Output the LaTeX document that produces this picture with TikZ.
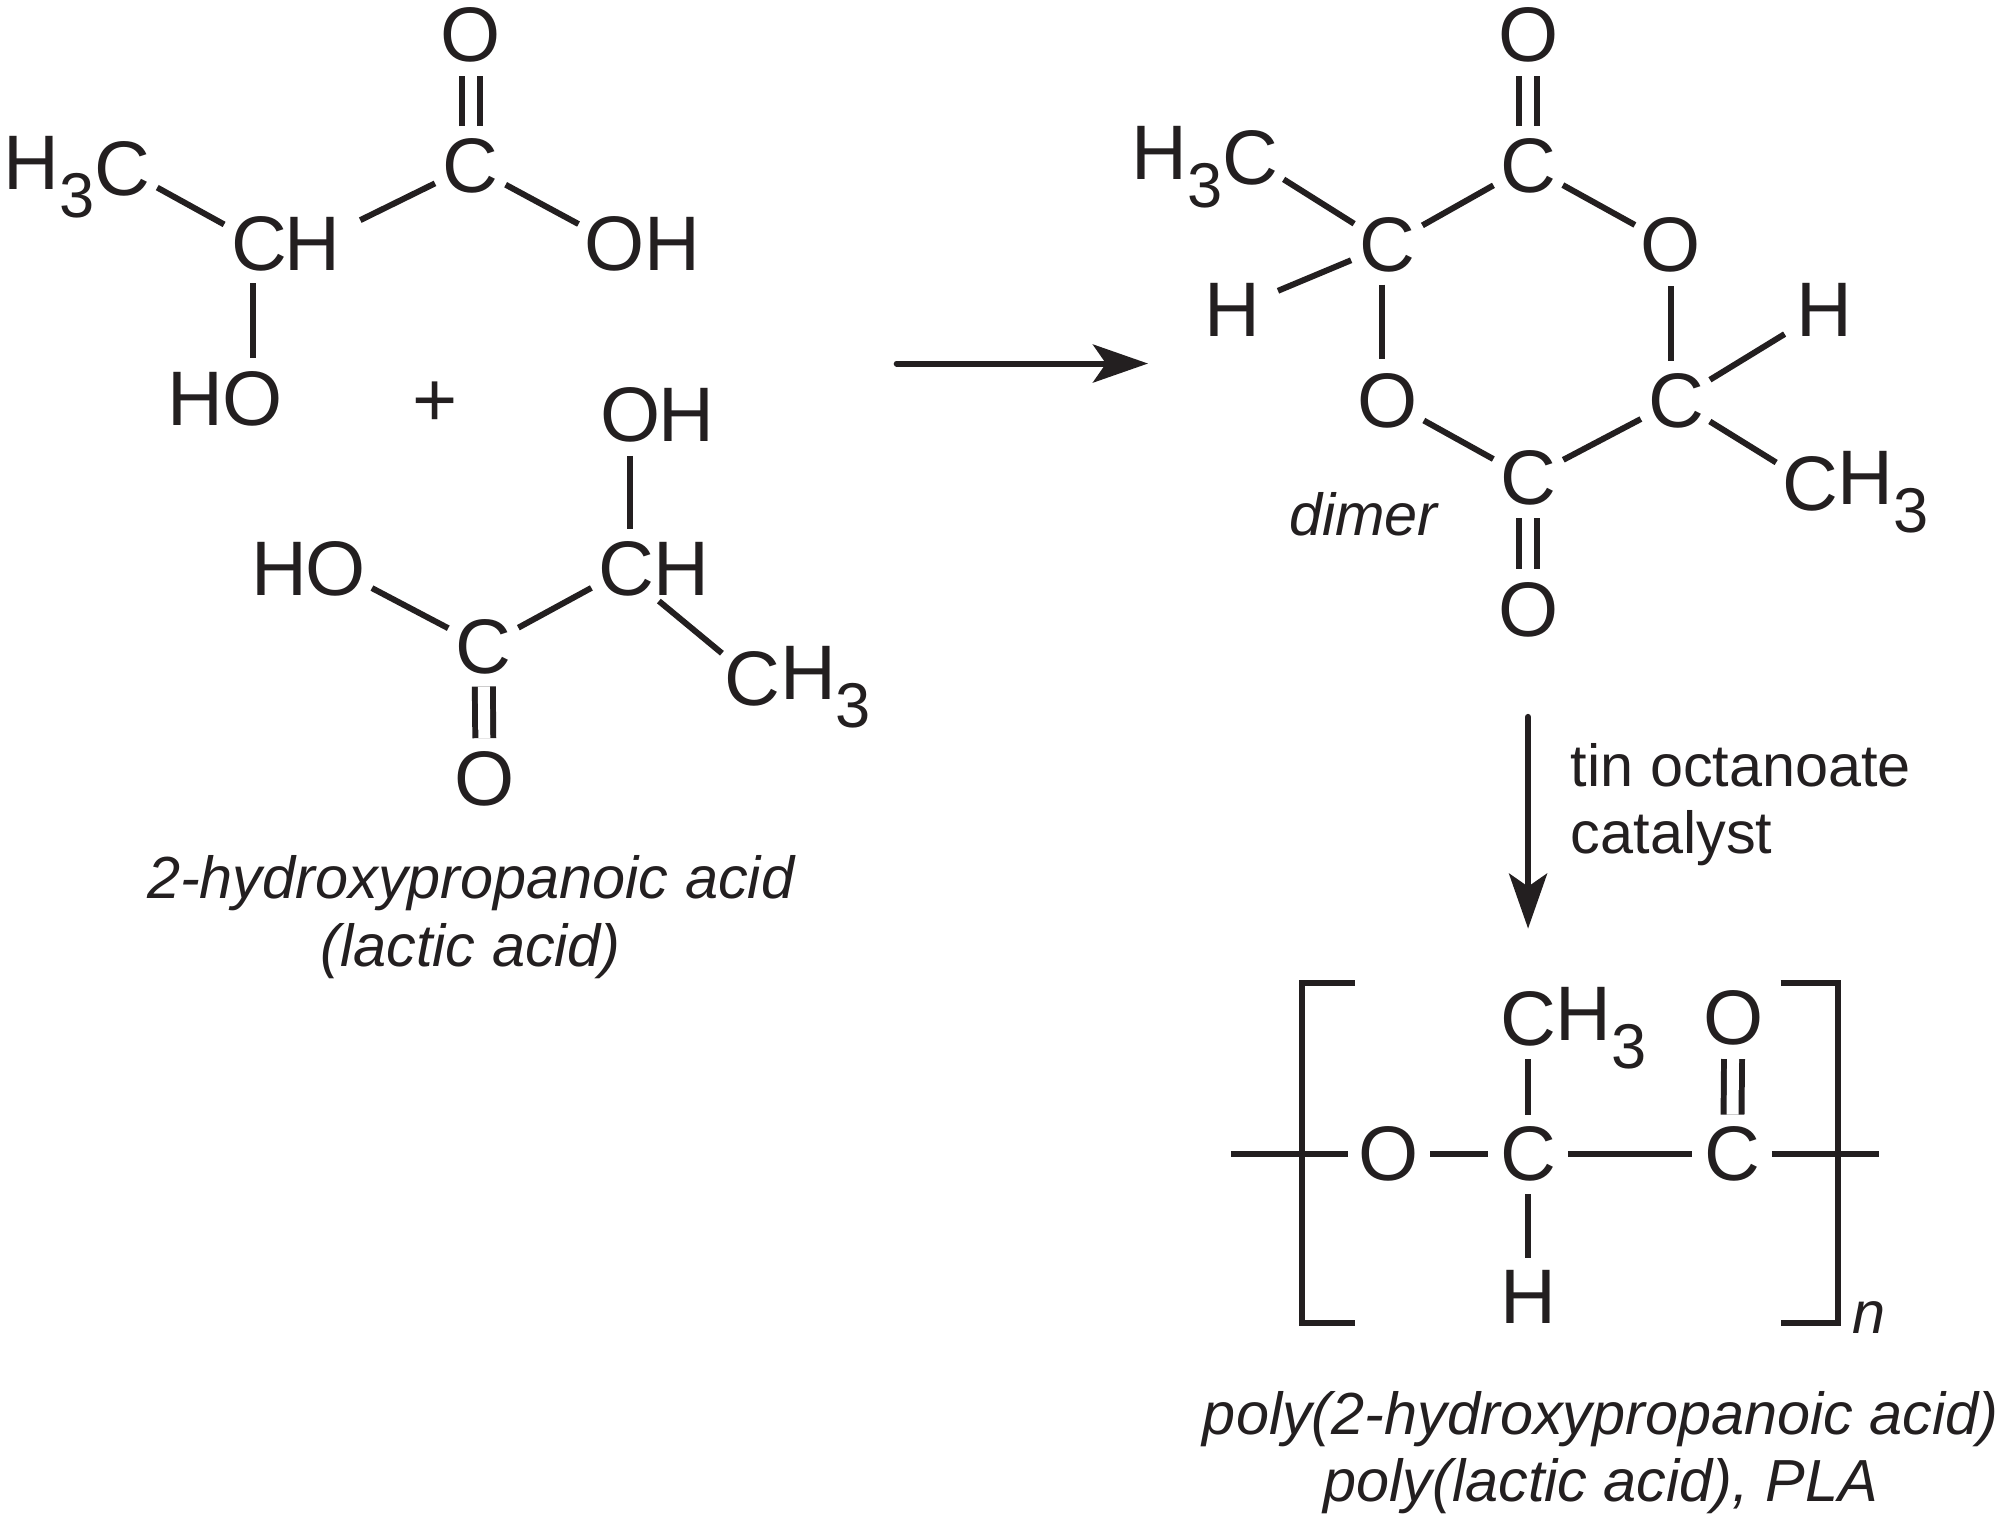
\documentclass[tikz,border=0pt]{standalone}
\usepackage{fontspec}
\setmainfont{Liberation Sans}
\usetikzlibrary{arrows.meta}
\definecolor{ink}{HTML}{231F20}
\newcommand{\low}[1]{\raisebox{-.36em}{\fontsize{18}{18}\selectfont #1}}
\tikzset{
  atom/.style={circle,inner sep=0pt,minimum size=.74cm,font=\fontsize{22}{24}\selectfont,text=ink},
  frag/.style={inner sep=0pt,font=\fontsize{22}{24}\selectfont,text=ink},
  caption/.style={inner sep=0pt,align=center,font=\fontsize{16.9}{19.2}\selectfont\itshape,text=ink},
  bond/.style={draw=ink,line width=1.7pt},
  dbl/.style={draw=ink,line width=1.7pt,double=white,double distance=3.4pt},
  rxn/.style={draw=ink,line width=1.7pt,line cap=round,-{Stealth[length=.55cm,width=.38cm,inset=.13cm]}},
}
\begin{document}
\begin{tikzpicture}[x=0.012755cm,y=-0.012755cm]
\useasboundingbox (0,0) rectangle (1568,1193);
% lactic acid, upper
\node[atom] (la1) at (96,132) {C};
\node[frag,anchor=east] (la1h) at (75,139) {H\low{3}};
\node[atom] (la2) at (203,191) {C};
\node[atom] (la2h) at (245,191) {H};
\node[atom] (la3) at (369,130) {C};
\node[atom] (la4) at (369,27) {O};
\node[atom] (la5) at (482,191) {O};
\node[atom] (la5h) at (527,191) {H};
\node[atom] (la6) at (198,313) {O};
\node[atom] (la6h) at (153,313) {H};
\draw[bond] (la1) -- (la2);
\draw[bond,shorten <=4pt] (la2h) -- (la3);
\draw[bond] (la3) -- (la5);
\draw[dbl] (la3) -- (la4);
\draw[bond] (la6.north) -- (la6.north |- la2.south);
\node[frag] (plus) at (341,317) {+};
% lactic acid, lower
\node[atom] (lb1) at (494,325) {O};
\node[atom] (lb1h) at (538,325) {H};
\node[atom] (lb2) at (491,446) {C};
\node[atom] (lb2h) at (534,446) {H};
\node[atom] (lb3) at (379,507) {C};
\node[atom] (lb4) at (380,611) {O};
\node[atom] (lb5) at (263,446) {O};
\node[atom] (lb5h) at (219,446) {H};
\node[atom] (lb6) at (590,532) {C};
\node[frag,anchor=west] (lb6h) at (611,539) {H\low{3}};
\draw[bond] (lb1.south) -- (lb1.south |- lb2.north);
\draw[bond] (lb2) -- (lb3);
\draw[dbl] (lb3) -- (lb4);
\draw[bond] (lb5) -- (lb3);
\draw[bond,shorten <=2pt] (lb2h.south west) -- (lb6);
\node[caption] (acid) at (369,719) {2-hydroxypropanoic acid\\(lactic acid)};
% reaction arrows
\coordinate (r1) at (703,285);
\coordinate (r2) at (900,285);
\draw[rxn] (r1) -- (r2);
\coordinate (r3) at (1198,562);
\coordinate (r4) at (1198,728);
\draw[rxn] (r3) -- (r4);
\node[frag,anchor=west,align=left,font=\fontsize{16.9}{19.2}\selectfont] (tin) at (1231,631) {tin octanoate\\catalyst};
% dimer
\node[atom] (d1) at (1198,130) {C};
\node[atom] (d2) at (1198,27) {O};
\node[atom] (d3) at (1310,192) {O};
\node[atom] (d4) at (1314,314) {C};
\node[atom] (d5) at (1198,375) {C};
\node[atom] (d6) at (1198,478) {O};
\node[atom] (d7) at (1088,314) {O};
\node[atom] (d8) at (1088,192) {C};
\node[atom] (d9) at (980,124) {C};
\node[frag,anchor=east] (d9h) at (959,131) {H\low{3}};
\node[atom] (d10) at (966,243) {H};
\node[atom] (d11) at (1430,243) {H};
\node[atom] (d12) at (1419,379) {C};
\node[frag,anchor=west] (d12h) at (1440,386) {H\low{3}};
\draw[dbl] (d1) -- (d2);
\draw[bond] (d1) -- (d3);
\draw[bond] (d3.south) -- (d3.south |- d4.north);
\draw[bond] (d4) -- (d5);
\draw[dbl] (d5) -- (d6);
\draw[bond] (d5) -- (d7);
\draw[bond] ([xshift=-.06cm]d8.south) -- ([xshift=-.06cm]d7.north);
\draw[bond] (d8) -- (d1);
\draw[bond] (d8) -- (d9);
\draw[bond,shorten >=3pt] (d8) -- (d10);
\draw[bond,shorten >=2pt] (d4) -- (d11);
\draw[bond] (d4) -- (d12);
\node[caption] (dimer) at (1069,403) {dimer};
% polymer
\node[atom] (p1) at (1089,905) {O};
\node[atom] (p2) at (1198,905) {C};
\node[atom] (p3) at (1358,905) {C};
\node[atom] (p4) at (1198,799) {C};
\node[frag,anchor=west] (p4h) at (1219,806) {H\low{3}};
\node[atom] (p5) at (1198,1017) {H};
\node[atom] (p6) at (1359,798) {O};
\coordinate (e1) at (965,905);
\coordinate (e2) at (1473,905);
\draw[bond] (e1) -- (p1);
\draw[bond] (p1) -- (p2);
\draw[bond] (p2) -- (p3);
\draw[bond] (p3) -- (e2);
\draw[bond] (p2) -- (p4);
\draw[bond] (p2) -- (p5);
\draw[dbl] (p3) -- (p6);
\coordinate (b1) at (1062,771);
\coordinate (b2) at (1021,771);
\coordinate (b3) at (1021,1037);
\coordinate (b4) at (1062,1037);
\draw[bond] (b1) -- (b2) -- (b3) -- (b4);
\coordinate (b5) at (1396,771);
\coordinate (b6) at (1441,771);
\coordinate (b7) at (1441,1037);
\coordinate (b8) at (1396,1037);
\draw[bond] (b5) -- (b6) -- (b7) -- (b8);
\node[caption] (n) at (1465,1033) {n};
\node[caption] (pla) at (1255,1139) {poly(2-hydroxypropanoic acid)\\poly(lactic acid), PLA};
\end{tikzpicture}
\end{document}
